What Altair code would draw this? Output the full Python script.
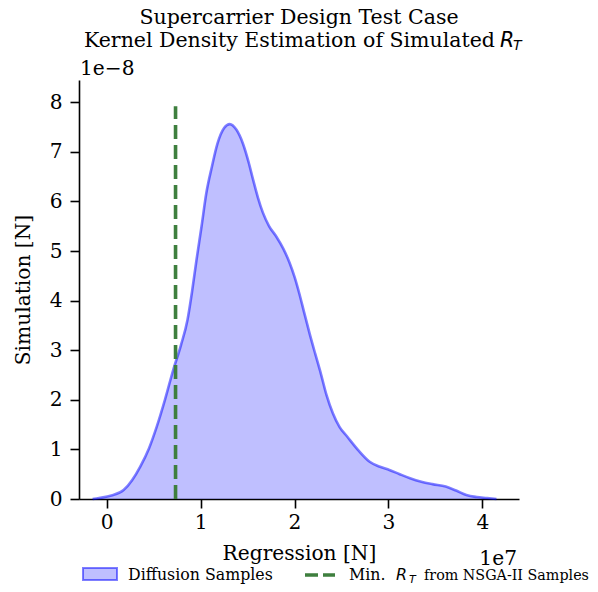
import altair as alt
import pandas as pd

# KDE curve (x in N, density in 1/N)
kde_x_1e7 = [-0.15, -0.08, 0.05, 0.18, 0.27, 0.356, 0.45, 0.533, 0.62, 0.708, 0.79, 0.86, 0.91, 0.956,
             1.01, 1.06, 1.12, 1.18, 1.25, 1.31, 1.38, 1.45, 1.51, 1.56, 1.61, 1.664, 1.73, 1.807,
             1.88, 1.948, 2.0, 2.05, 2.10, 2.16, 2.22, 2.28, 2.34, 2.408, 2.48, 2.56, 2.68, 2.80,
             2.91, 3.01, 3.12, 3.23, 3.35, 3.47, 3.61, 3.72, 3.83, 3.94, 4.05, 4.15]
kde_y_1e8 = [0.0, 0.02, 0.07, 0.18, 0.38, 0.65, 1.02, 1.46, 2.0, 2.60, 3.1, 3.61, 4.2, 4.82,
             5.5, 6.16, 6.7, 7.17, 7.48, 7.56, 7.45, 7.17, 6.8, 6.43, 6.08, 5.77, 5.5, 5.29,
             5.05, 4.76, 4.48, 4.15, 3.78, 3.34, 2.93, 2.53, 2.1, 1.73, 1.45, 1.26, 0.98, 0.75,
             0.65, 0.585, 0.5, 0.42, 0.35, 0.30, 0.25, 0.17, 0.08, 0.04, 0.02, 0.0]

min_rt_nsga = 7.33e6
vline_top = 7.92e-8

x_ticks = [0, 1e7, 2e7, 3e7, 4e7]
y_ticks = [i * 1e-8 for i in range(9)]

kde = pd.DataFrame({
    "x": [v * 1e7 for v in kde_x_1e7],
    "y": [v * 1e-8 for v in kde_y_1e8],
})
vline = pd.DataFrame({"x": [min_rt_nsga], "y": [0.0], "y2": [vline_top]})
one = pd.DataFrame({"a": [0]})

SERIF = "DejaVu Serif"
SANS = "DejaVu Sans"
BLUE = "#0000ff"
GREEN = "#3e7f3e"
AX = 20.2
TT = 20.5
LG = 15.8
LG2 = 14.3

xscale = alt.Scale(domain=[-0.295e7, 4.39e7], nice=False, zero=False)
yscale = alt.Scale(domain=[0, 8.45e-8], nice=False, zero=False)

xaxis = alt.Axis(values=x_ticks, labelExpr="format(round(datum.value/1e6)/10, 'd')",
                 title="Regression [N]", titleX=220, titleY=54, titleBaseline="middle",
                 titleAlign="center", labelPadding=4)
yaxis = alt.Axis(values=y_ticks, labelExpr="format(round(datum.value*1e8), 'd')",
                 title="Simulation [N]", titleX=-56, titleY=209.5, titleBaseline="middle",
                 titleAlign="center", titleAngle=270, labelPadding=8)

area = alt.Chart(kde).mark_area(fill=BLUE, fillOpacity=0.25, interpolate="monotone").encode(
    x=alt.X("x:Q", scale=xscale, axis=xaxis),
    y=alt.Y("y:Q", scale=yscale, axis=yaxis),
)
line = alt.Chart(kde).mark_line(color=BLUE, strokeOpacity=0.5, strokeWidth=2.6,
                                interpolate="monotone").encode(x="x:Q", y="y:Q")
rule = alt.Chart(vline).mark_rule(color=GREEN, strokeWidth=3.6, strokeDash=[14, 6]).encode(
    x="x:Q", y="y:Q", y2="y2:Q")


def txt(text, x, y, size=AX, font=SERIF, align="left", style="normal"):
    return alt.Chart(one).mark_text(text=text, font=font, fontSize=size, align=align,
                                    baseline="alphabetic", fontStyle=style, color="black").encode(
        x=alt.value(x), y=alt.value(y))


LB = 500  # legend text baseline (relative to plot top)
texts = [
    txt("Supercarrier Design Test Case", 220, -56.5, size=TT, align="center"),
    txt("Kernel Density Estimation of Simulated", 416, -33.5, size=TT, align="right"),
    txt("R", 421, -33.5, size=TT, font=SANS, style="italic"),
    txt("T", 434, -30.5, size=14, font=SANS, style="italic"),
    txt("1e\u22128", 1, -5),
    txt("1e7", 438, 485, align="right"),
    txt("Diffusion Samples", 49, LB, size=LG),
    txt("Min.", 270, LB, size=LG),
    txt("R", 317, LB, size=LG, font=SANS, style="italic"),
    txt("T", 330, LB + 2.5, size=11, font=SANS, style="italic"),
    txt("from NSGA-II Samples", 345, LB, size=LG2),
]

leg_patch = alt.Chart(one).mark_rect(fill=BLUE, fillOpacity=0.25, stroke=BLUE, strokeOpacity=0.5,
                                     strokeWidth=2).encode(
    x=alt.value(4), x2=alt.value(38), y=alt.value(LB - 12), y2=alt.value(LB))
leg_dash = alt.Chart(one).mark_rule(color=GREEN, strokeWidth=3.6, strokeDash=[13, 5]).encode(
    x=alt.value(226), x2=alt.value(256), y=alt.value(LB - 5))

chart = alt.layer(area, line, rule, leg_patch, leg_dash, *texts).properties(
    width=440, height=419,
    autosize=alt.AutoSizeParams(type="none"),
    padding={"left": 71, "top": 72, "right": 71, "bottom": 85},
).configure_view(strokeOpacity=0).configure_axis(
    domainColor="black", domainWidth=1.6, tickColor="black", tickWidth=1.6, tickSize=9,
    labelFont=SERIF, labelFontSize=AX, labelColor="black",
    titleFont=SERIF, titleFontSize=AX, titleColor="black", titleFontWeight="normal",
    grid=False,
)

chart.save("out.html", embed_options={"renderer": "svg", "actions": False})
